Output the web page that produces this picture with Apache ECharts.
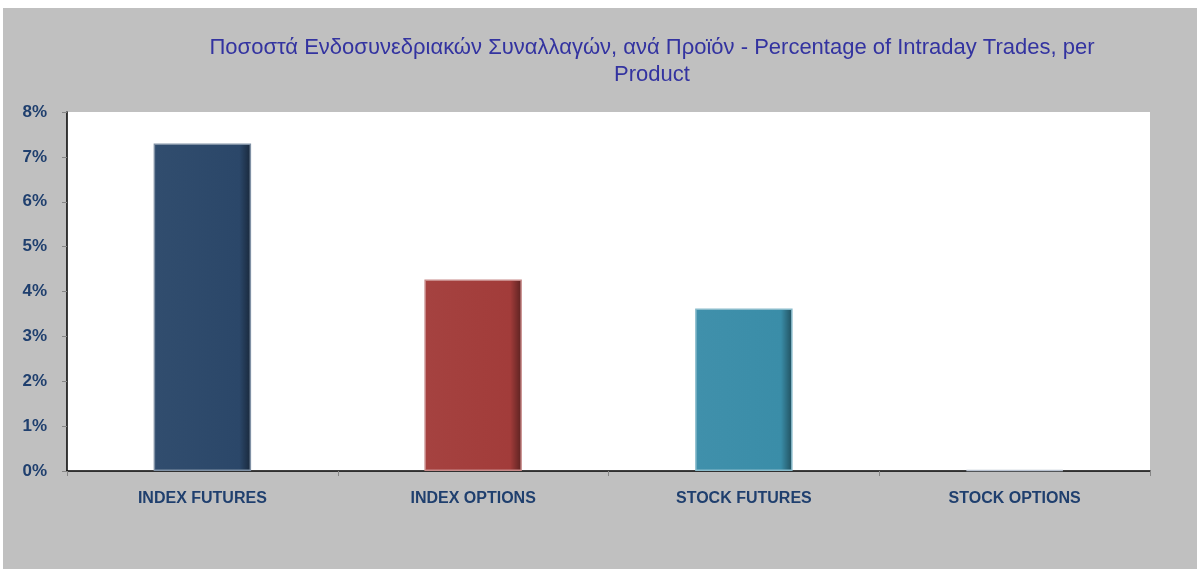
<!DOCTYPE html>
<html>
<head>
<meta charset="utf-8">
<script src="https://cdn.jsdelivr.net/npm/echarts@6/dist/echarts.min.js"></script>
<style>
html,body{margin:0;padding:0;background:#fff;width:1197px;height:569px;overflow:hidden;}
#c{position:absolute;left:3px;top:8px;width:1194px;height:561px;}
</style>
</head>
<body>
<div id="c"></div>
<script>
const categories = ['INDEX FUTURES', 'INDEX OPTIONS', 'STOCK FUTURES', 'STOCK OPTIONS'];
const values = [7.30, 4.27, 3.62, 0.02];
const barColors = ['#2B4769', '#A23C3A', '#3A8DA8', '#8A9AB0'];
const yTicks = [0, 1, 2, 3, 4, 5, 6, 7, 8];
const titleText = 'Ποσοστά Ενδοσυνεδριακών Συναλλαγών, ανά Προϊόν - Percentage of Intraday Trades, per\nProduct';

const FONT = '"Liberation Sans", Arial, sans-serif';
const chart = echarts.init(document.getElementById('c'), null, {renderer: 'canvas'});

function shade(hex, f) {
  const n = parseInt(hex.slice(1), 16);
  let r = (n >> 16) & 255, g = (n >> 8) & 255, b = n & 255;
  const m = v => Math.max(0, Math.min(255, Math.round(f > 0 ? v + (255 - v) * f : v * (1 + f))));
  return 'rgb(' + m(r) + ',' + m(g) + ',' + m(b) + ')';
}

chart.setOption({
  backgroundColor: '#C0C0C0',
  animation: false,
  title: {
    text: titleText,
    left: 644, top: 21, textAlign: 'center',
    textStyle: {fontFamily: FONT, fontSize: 22, fontWeight: 'normal', color: '#3333A0', lineHeight: 27}
  },
  grid: {left: 64, top: 104, right: 47, bottom: 98, show: true, backgroundColor: '#FFFFFF', borderWidth: 0},
  xAxis: {
    type: 'category',
    data: categories,
    axisLine: {lineStyle: {color: '#000', width: 1.5}},
    axisTick: {show: true, length: 5, lineStyle: {color: '#868686'}},
    axisLabel: {fontFamily: FONT, fontSize: 16, fontWeight: 'bold', color: '#1F3F6E', margin: 20}
  },
  yAxis: {
    type: 'value',
    min: yTicks[0], max: yTicks[yTicks.length - 1], interval: 1,
    splitLine: {show: false},
    axisLine: {show: true, lineStyle: {color: '#000', width: 1.5}},
    axisTick: {show: true, length: 5, lineStyle: {color: '#868686'}},
    axisLabel: {fontFamily: FONT, fontSize: 17, fontWeight: 'bold', color: '#1F3F6E', margin: 20, formatter: v => v + '%'}
  },
  series: [{
    type: 'bar',
    barWidth: '36%',
    data: values.map((v, i) => ({
      value: v,
      itemStyle: {
        color: new echarts.graphic.LinearGradient(0, 0, 1, 0, [
          {offset: 0, color: shade(barColors[i], 0.03)},
          {offset: 0.88, color: barColors[i]},
          {offset: 1, color: shade(barColors[i], -0.45)}
        ]),
        borderColor: shade(barColors[i], 0.4),
        borderWidth: 1.5
      }
    }))
  }]
});
</script>
</body>
</html>
